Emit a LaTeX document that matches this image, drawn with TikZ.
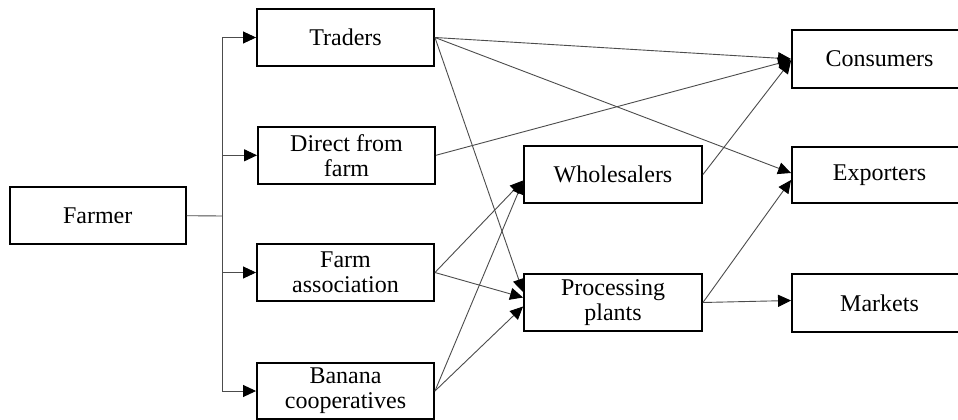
\documentclass[tikz,border=0pt]{standalone}
\usepackage{fontspec}
\setmainfont{Liberation Serif}
\usetikzlibrary{arrows.meta,calc}

\tikzset{
  box/.style={draw=black, line width=1.9pt, fill=white, inner sep=0pt,
    align=center, font=\fontsize{24}{25}\selectfont},
  lbox/.style={box, minimum width=177pt, minimum height=57pt},
  mbox/.style={box, minimum width=178pt, minimum height=57pt},
  rbox/.style={box, minimum width=175pt, minimum height=57pt},
  link/.style={draw=black!70, line width=0.9pt},
  flow/.style={link, -{Triangle[length=13pt,width=12pt,color=black]}},
}

\begin{document}
\begin{tikzpicture}[x=1pt, y=-1pt]
  \useasboundingbox (0,0) rectangle (958,420);
  \fill[white] (0,0) rectangle (958,420);
  \clip (0,0) rectangle (958,420);

  % source
  \node[box, minimum width=176pt, minimum height=57pt] (farmer) at (97.7,215.7) {Farmer};

  % first-level channels
  \node[lbox] (traders) at (345.5,37.5)  {Traders};
  \node[lbox] (direct)  at (346.5,155.3) {Direct from\\farm};
  \node[lbox] (assoc)   at (345.5,272.5) {Farm\\association};
  \node[lbox, minimum height=56.5pt] (coop) at (345.5,391) {Banana\\cooperatives};

  % intermediaries
  \node[mbox] (whole) at (613,174.5) {Wholesalers};
  \node[mbox] (proc)  at (613,302.5) {Processing\\plants};

  % final destinations
  \node[rbox, minimum height=58pt] (cons) at (879.5,59)  {Consumers};
  \node[rbox, minimum height=56pt] (expo) at (879.5,175) {Exporters};
  \node[rbox, minimum height=58pt] (mark) at (879.5,303) {Markets};

  % farmer branches out to each channel
  \coordinate (fork) at (222,216);
  \draw[link] (farmer.east) -- (fork);
  \draw[link] (fork |- traders.west) -- (fork |- coop.west);
  \foreach \n in {traders,direct,assoc,coop}
    \draw[flow] (fork |- \n.west) -- (\n.west);

  % traders
  \draw[flow] (traders.east) -- (cons.west);
  \draw[flow] (traders.east) -- ($(expo.west)+(0,-2)$);
  \draw[flow] (traders.east) -- ($(proc.west)+(0,-10.5)$);

  % direct from farm
  \draw[flow] (direct.east) -- ($(cons.west)+(0,1)$);

  % farm association
  \draw[flow] (assoc.east) -- ($(whole.west)+(0,6)$);
  \draw[flow] (assoc.east) -- ($(proc.west)+(0,-5)$);

  % banana cooperatives
  \draw[flow] (coop.east) -- ($(whole.west)+(0,6.5)$);
  \draw[flow] (coop.east) -- ($(proc.west)+(0,4)$);

  % wholesalers
  \draw[flow] (whole.east) -- ($(cons.west)+(0,1.5)$);

  % processing plants
  \draw[flow] (proc.east) -- ($(expo.west)+(0,5)$);
  \draw[flow] (proc.east) -- ($(mark.west)+(0,-2.5)$);
\end{tikzpicture}
\end{document}
